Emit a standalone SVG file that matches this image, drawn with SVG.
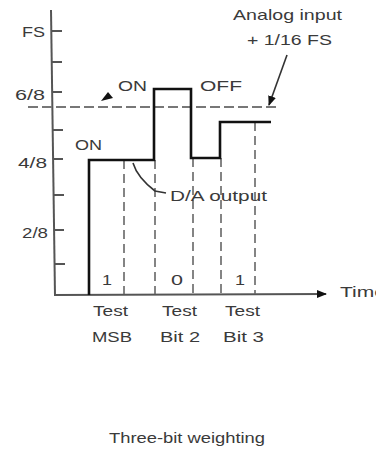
<svg xmlns="http://www.w3.org/2000/svg" width="376" height="449" viewBox="0 0 376 449">
<defs>
<style>
.t{font-family:"Liberation Sans",Arial,sans-serif;font-size:15px;fill:#3a3a3a}
.c{font-size:14px}
.ax{stroke:#555;stroke-width:2;fill:none}
.tk{stroke:#555;stroke-width:2}
.dv{stroke:#666;stroke-width:1.6;stroke-dasharray:9 5;fill:none}
.dh{stroke:#777;stroke-width:1.8;stroke-dasharray:10 4;fill:none}
.da{stroke:#111;stroke-width:2.6;fill:none}
.ld{stroke:#333;stroke-width:1.6;fill:none}
</style>
<marker id="ah" markerWidth="10" markerHeight="8" refX="9" refY="4" orient="auto" markerUnits="userSpaceOnUse">
<path d="M0,0 L10,4 L0,8 Z" fill="#111"/>
</marker>
</defs>
<rect width="376" height="449" fill="#fff"/>
<g id="axes">
<line class="ax" x1="51" y1="10" x2="55" y2="296"/>
<line class="ax" x1="55" y1="295" x2="326" y2="294" marker-end="url(#ah)"/>
<line class="tk" x1="52" y1="31" x2="62" y2="31"/>
<line class="tk" x1="52" y1="62" x2="62" y2="62"/>
<line class="tk" x1="52" y1="92" x2="62" y2="92"/>
<line class="tk" x1="53" y1="130" x2="63" y2="130"/>
<line class="tk" x1="53" y1="159" x2="63" y2="159"/>
<line class="tk" x1="54" y1="195" x2="64" y2="195"/>
<line class="tk" x1="54" y1="230" x2="64" y2="230"/>
<line class="tk" x1="55" y1="264" x2="65" y2="264"/>
<text class="t" x="22" y="37" textLength="23" lengthAdjust="spacingAndGlyphs">FS</text>
<text class="t" x="15" y="100" textLength="30" lengthAdjust="spacingAndGlyphs">6/8</text>
<text class="t" x="18" y="168" textLength="29" lengthAdjust="spacingAndGlyphs">4/8</text>
<text class="t" x="22" y="238" textLength="26" lengthAdjust="spacingAndGlyphs">2/8</text>
<text class="t" x="340" y="297" textLength="46" lengthAdjust="spacingAndGlyphs">Time</text>
</g>
<g id="connectors">
<line class="dv" x1="124" y1="160" x2="124" y2="294"/>
<line class="dv" x1="155" y1="160" x2="155" y2="294"/>
<line class="dv" x1="193" y1="158" x2="193" y2="294"/>
<line class="dv" x1="221" y1="158" x2="221" y2="294"/>
<line class="dv" x1="255" y1="122" x2="255" y2="294"/>
<line class="dh" x1="28" y1="107" x2="278" y2="107"/>
<path class="ld" d="M287,55 L269,105" marker-end="url(#ah)"/>
<path class="ld" d="M133,163 C136,173 142,181 155,191 L166,193"/>
<polygon points="101,101 108,92 113,98" fill="#111"/>
</g>
<g id="da-output">
<path class="da" d="M89,295 V160 H154 V89 H191 V158 H220 V122 H271"/>
</g>
<g id="labels">
<text class="t" x="233" y="20" textLength="109" lengthAdjust="spacingAndGlyphs">Analog input</text>
<text class="t" x="247" y="45" textLength="85" lengthAdjust="spacingAndGlyphs">+ 1/16 FS</text>
<text class="t" x="118" y="91" textLength="29" lengthAdjust="spacingAndGlyphs">ON</text>
<text class="t" x="200" y="91" textLength="42" lengthAdjust="spacingAndGlyphs">OFF</text>
<text class="t" x="75" y="150" textLength="27" lengthAdjust="spacingAndGlyphs">ON</text>
<text class="t" x="170" y="201" textLength="97" lengthAdjust="spacingAndGlyphs">D/A output</text>
<text class="t" x="102" y="285" textLength="10" lengthAdjust="spacingAndGlyphs">1</text>
<text class="t" x="171" y="285" textLength="12" lengthAdjust="spacingAndGlyphs">0</text>
<text class="t" x="235" y="285" textLength="10" lengthAdjust="spacingAndGlyphs">1</text>
<text class="t" x="93" y="316" textLength="35" lengthAdjust="spacingAndGlyphs">Test</text>
<text class="t" x="162" y="316" textLength="35" lengthAdjust="spacingAndGlyphs">Test</text>
<text class="t" x="225" y="316" textLength="35" lengthAdjust="spacingAndGlyphs">Test</text>
<text class="t" x="92" y="342" textLength="40" lengthAdjust="spacingAndGlyphs">MSB</text>
<text class="t" x="160" y="342" textLength="40" lengthAdjust="spacingAndGlyphs">Bit 2</text>
<text class="t" x="223" y="342" textLength="41" lengthAdjust="spacingAndGlyphs">Bit 3</text>
<text class="t c" x="109" y="443" textLength="156" lengthAdjust="spacingAndGlyphs">Three-bit weighting</text>
</g>
</svg>
